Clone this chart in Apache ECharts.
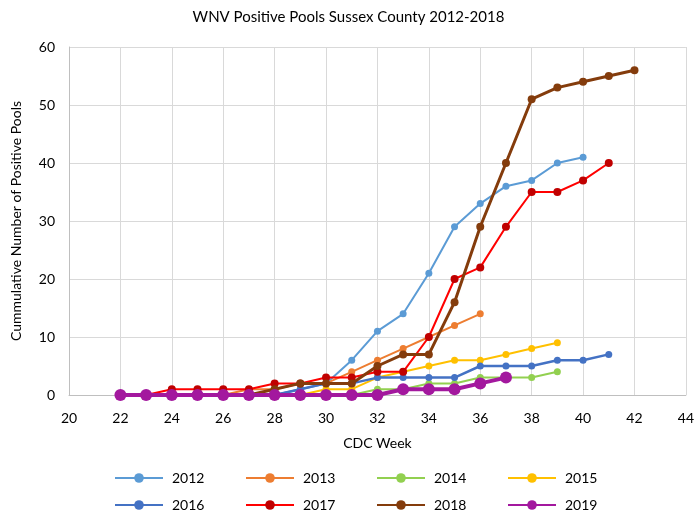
<!DOCTYPE html>
<html>
<head>
<meta charset="utf-8">
<script src="https://cdn.jsdelivr.net/npm/echarts@6/dist/echarts.min.js"></script>
<style>html,body{margin:0;padding:0;background:#fff}#c{width:697px;height:518px}</style>
</head>
<body>
<div id="c"></div>
<script>
var startWeek = 22;
var years = ['2012','2013','2014','2015','2016','2017','2018','2019'];
var v2012 = [0,0,0,0,0,0,0,1,2,6,11,14,21,29,33,36,37,40,41];
var v2013 = [0,0,0,0,0,1,1,2,2,4,6,8,10,12,14];
var v2014 = [0,0,0,0,0,0,0,0,0,0,1,1,2,2,3,3,3,4];
var v2015 = [0,0,0,0,0,0,0,0,1,1,3,4,5,6,6,7,8,9];
var v2016 = [0,0,0,0,0,0,0,1,2,2,3,3,3,3,5,5,5,6,6,7];
var v2017 = [0,0,1,1,1,1,2,2,3,3,4,4,10,20,22,29,35,35,37,40];
var v2018 = [0,0,0,0,0,0,1,2,2,2,5,7,7,16,29,40,51,53,54,55,56];
var v2019 = [0,0,0,0,0,0,0,0,0,0,0,1,1,1,2,3];
var values = [v2012,v2013,v2014,v2015,v2016,v2017,v2018,v2019];
var lineColors = ['#5B9BD5','#ED7D31','#92D050','#FFC000','#4472C4','#FF0000','#843C0C','#A3189E'];
var markColors = ['#5B9BD5','#ED7D31','#92D050','#FFC000','#4472C4','#C00000','#843C0C','#A3189E'];
var widths = [2,2,2,2,2.5,2,3,4];
var sizes = [7,7,7,7,7,8,8,12];
var FONT = 'Lato';

function pts(arr){ return arr.map(function(v,i){ return [startWeek+i, v]; }); }

var series = years.map(function(y,k){
  return {
    name: y, type: 'line', data: pts(values[k]),
    symbol: 'circle', symbolSize: sizes[k],
    lineStyle: {color: lineColors[k], width: widths[k]},
    itemStyle: {color: markColors[k], borderColor: markColors[k], borderWidth: 0},
    emphasis: {disabled: true}, animation: false, z: 2 + k
  };
});

var legLeft = [114,245,376,507];
var legTop = [471,498];
var legends = years.map(function(y,k){
  return {
    data: [y], left: legLeft[k%4], top: legTop[Math.floor(k/4)],
    padding: 0, itemWidth: 48, itemHeight: 12, itemGap: 0,
    textStyle: {fontFamily: FONT, fontSize: 14, color: '#000', padding: [0,0,0,4]},
    selectedMode: false
  };
});

var chart = echarts.init(document.getElementById('c'));
chart.setOption({
  backgroundColor: '#fff',
  animation: false,
  title: {text: 'WNV Positive Pools Sussex County 2012-2018', left: 'center', top: 5,
    textStyle: {fontFamily: FONT, fontSize: 15, fontWeight: 'normal', color: '#000'}},
  legend: legends,
  grid: {left: 69, right: 8, top: 47, bottom: 123, containLabel: false},
  xAxis: {
    type: 'value', min: 20, max: 44, interval: 2,
    name: 'CDC Week', nameLocation: 'middle', nameGap: 41,
    nameTextStyle: {fontFamily: FONT, fontSize: 14, color: '#000'},
    axisLine: {onZero: false, lineStyle: {color: '#BFBFBF', width: 1}},
    axisTick: {show: false},
    axisLabel: {fontFamily: FONT, fontSize: 14, color: '#000', margin: 16},
    splitLine: {show: true, lineStyle: {color: '#D9D9D9', width: 1}}
  },
  yAxis: {
    type: 'value', min: 0, max: 60, interval: 10,
    name: 'Cummulative Number of Positive Pools', nameLocation: 'middle', nameGap: 46,
    nameTextStyle: {fontFamily: FONT, fontSize: 14, color: '#000'},
    axisLine: {show: true, lineStyle: {color: '#BFBFBF', width: 1}},
    axisTick: {show: false},
    axisLabel: {fontFamily: FONT, fontSize: 14, color: '#000', margin: 14},
    splitLine: {show: true, lineStyle: {color: '#D9D9D9', width: 1}}
  },
  series: series
});
</script>
</body>
</html>
